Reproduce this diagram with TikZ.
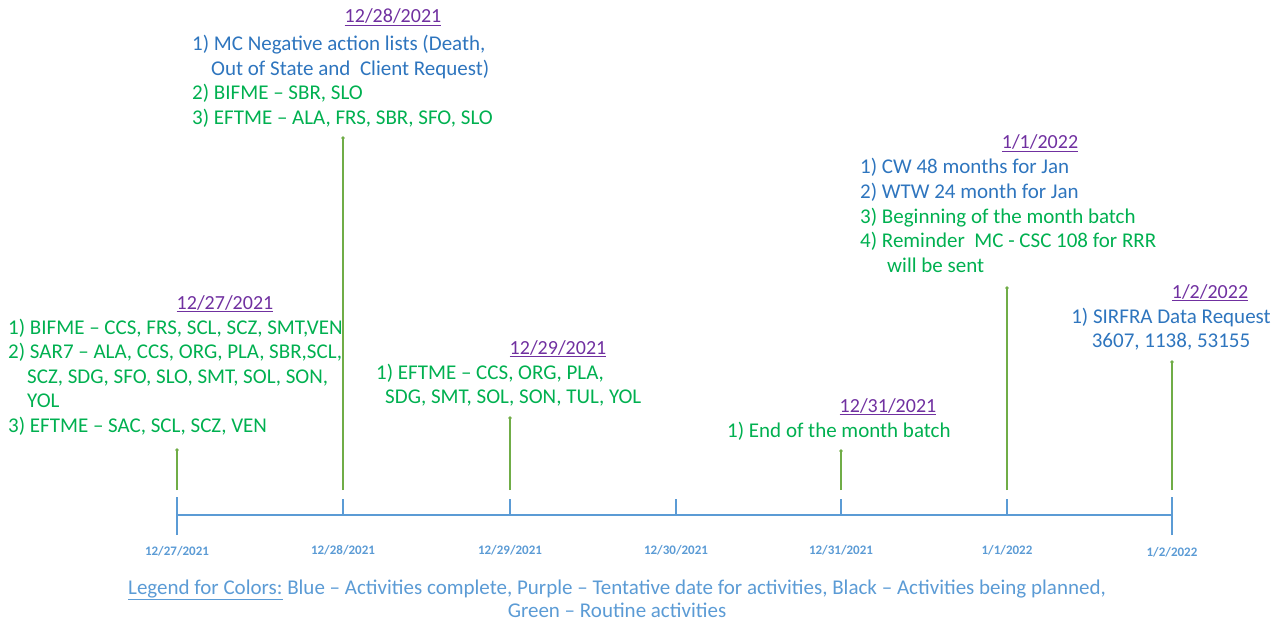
\documentclass[tikz,border=0pt]{standalone}
\usepackage{fontspec}
\setmainfont{Carlito}
\definecolor{tgreen}{RGB}{0,176,80}
\definecolor{tblue}{RGB}{46,117,190}
\definecolor{tpurple}{RGB}{112,48,160}
\definecolor{axblue}{RGB}{91,155,213}
\definecolor{stemgreen}{RGB}{112,173,71}
\begin{document}
\begin{tikzpicture}[x=1pt,y=-1pt,
  txt/.style={inner sep=0pt, anchor=base west, font=\fontsize{21}{24}\selectfont},
  gt/.style={txt, text=tgreen},
  bt/.style={txt, text=tblue},
  dt/.style={inner sep=0pt, anchor=base, font=\fontsize{20}{24}\selectfont, text=tpurple},
  tl/.style={inner sep=0pt, anchor=base, font=\fontsize{13}{15}\selectfont\bfseries, text=axblue},
  lg/.style={inner sep=0pt, anchor=base, font=\fontsize{21}{24}\selectfont, text=axblue},
  stem/.style={draw=stemgreen, line width=1.2pt},
  axisline/.style={draw=axblue, line width=1.5pt},
  dot/.style={fill=stemgreen}
]
\useasboundingbox (0,0) rectangle (1283,623);

% axis
\coordinate (a1) at (177,515);
\coordinate (a2) at (343,515);
\coordinate (a3) at (510,515);
\coordinate (a4) at (676,515);
\coordinate (a5) at (841,515);
\coordinate (a6) at (1007,515);
\coordinate (a7) at (1172,515);
\draw[axisline] (a1) -- (a7);
\draw[axisline] ([yshift=-20pt]a1) -- ([yshift=18pt]a1);
\draw[axisline] ([yshift=-20pt]a7) -- ([yshift=18pt]a7);
\foreach \c in {a2,a3,a4,a5,a6} \draw[axisline] (\c) -- ([yshift=16pt]\c);

% tick labels
\node[tl] (l1) at (177,555) {12/27/2021};
\node[tl] (l2) at (343,554) {12/28/2021};
\node[tl] (l3) at (510,554) {12/29/2021};
\node[tl] (l4) at (676,554) {12/30/2021};
\node[tl] (l5) at (841,554) {12/31/2021};
\node[tl] (l6) at (1007,554) {1/1/2022};
\node[tl] (l7) at (1172,556) {1/2/2022};

% stems
\coordinate (s1b) at (177,490); \coordinate (s1t) at (177,450);
\coordinate (s2b) at (343,490); \coordinate (s2t) at (343,138);
\coordinate (s3b) at (510,490); \coordinate (s3t) at (510,418);
\coordinate (s5b) at (841,490); \coordinate (s5t) at (841,451);
\coordinate (s6b) at (1007,490); \coordinate (s6t) at (1007,288);
\coordinate (s7b) at (1172,490); \coordinate (s7t) at (1172,362);
\foreach \s in {s1,s2,s3,s5,s6,s7} {
  \draw[stem] (\s b) -- (\s t);
  \fill[dot] (\s t) circle (1.8pt);
}

% 12/27
\node[dt] (d1) at (225,309) {\underline{12/27/2021}};
\node[gt] (e1a) at (8,334) {1) BIFME – CCS, FRS, SCL, SCZ, SMT,VEN};
\node[gt] (e1b) at (8,358.5) {2) SAR7 – ALA, CCS, ORG, PLA, SBR,SCL,};
\node[gt] (e1c) at (27,383) {SCZ, SDG, SFO, SLO, SMT, SOL, SON,};
\node[gt] (e1d) at (27,407.5) {YOL};
\node[gt] (e1e) at (8,432) {3) EFTME – SAC, SCL, SCZ, VEN};

% 12/28
\node[dt] (d2) at (393,23) {\underline{12/28/2021}};
\node[bt] (e2a) at (192,51) {1) MC Negative action lists (Death,};
\node[bt] (e2b) at (211,75.5) {Out of State and\ \ Client Request)};
\node[gt] (e2c) at (192,100) {2) BIFME – SBR, SLO};
\node[gt] (e2d) at (192,124.5) {3) EFTME – ALA, FRS, SBR, SFO, SLO};

% 12/29
\node[dt] (d3) at (558,354) {\underline{12/29/2021}};
\node[gt] (e3a) at (376,379) {1) EFTME – CCS, ORG, PLA,};
\node[gt] (e3b) at (385,403.5) {SDG, SMT, SOL, SON, TUL, YOL};

% 12/31
\node[dt] (d5) at (888,412) {\underline{12/31/2021}};
\node[gt] (e5a) at (727,437) {1) End of the month batch};

% 1/1
\node[dt] (d6) at (1040,149) {\underline{1/1/2022}};
\node[bt] (e6a) at (860,174) {1) CW 48 months for Jan};
\node[bt] (e6b) at (860,198.5) {2) WTW 24 month for Jan};
\node[gt] (e6c) at (860,223) {3) Beginning of the month batch};
\node[gt] (e6d) at (860,247.5) {4) Reminder\ \ MC - CSC 108 for RRR};
\node[gt] (e6e) at (887,272) {will be sent};

% 1/2
\node[dt] (d7) at (1210,298) {\underline{1/2/2022}};
\node[bt, anchor=base] (e7a) at (1171,323) {1) SIRFRA Data Request};
\node[bt, anchor=base] (e7b) at (1171,347.5) {3607, 1138, 53155};

% legend
\node[lg] (lg1) at (617,594) {\underline{Legend for Colors:} Blue – Activities complete, Purple – Tentative date for activities, Black – Activities being planned,};
\node[lg] (lg2) at (617,617) {Green – Routine activities};
\end{tikzpicture}
\end{document}
